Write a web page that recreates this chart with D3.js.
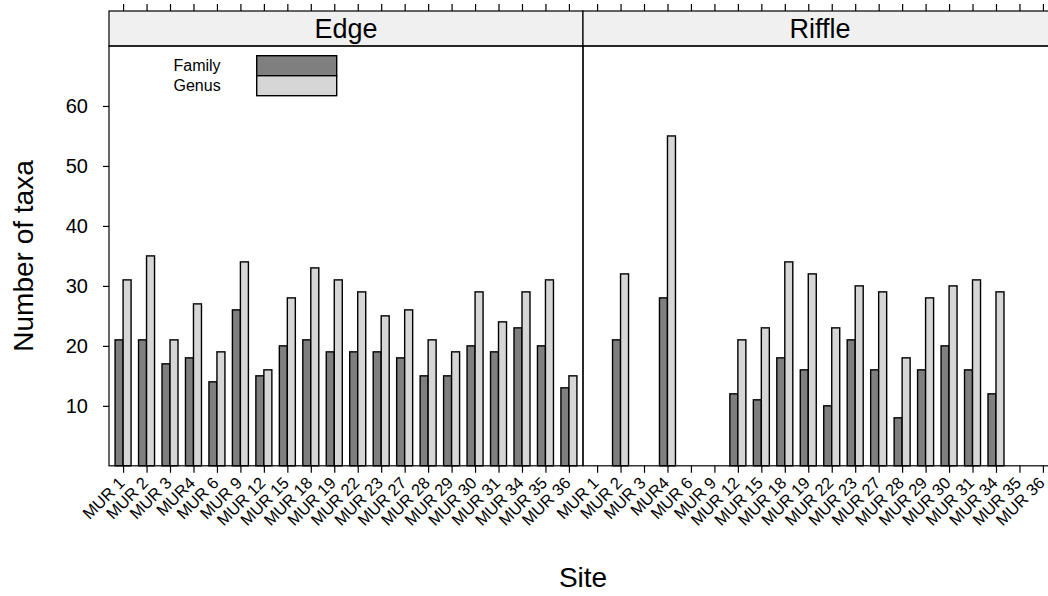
<!DOCTYPE html>
<html>
<head>
<meta charset="utf-8">
<script src="https://cdn.jsdelivr.net/npm/d3@7"></script>
<style>
  body { margin: 0; background: #fff; }
  svg { display: block; font-family: "Liberation Sans", Arial, Helvetica, sans-serif; }
</style>
</head>
<body>
<div id="chart"></div>
<script>
var sites = ["MUR 1", "MUR 2", "MUR 3", "MUR4", "MUR 6", "MUR 9", "MUR 12", "MUR 15", "MUR 18", "MUR 19",
    "MUR 22", "MUR 23", "MUR 27", "MUR 28", "MUR 29", "MUR 30", "MUR 31", "MUR 34", "MUR 35", "MUR 36"];
var habitats = ["Edge", "Riffle"];
var levels = ["Family", "Genus"];
var yTicks = [10, 20, 30, 40, 50, 60];

// null = site not sampled in that habitat
var edgeFamily = [21, 21, 17, 18, 14, 26, 15, 20, 21, 19, 19, 19, 18, 15, 15, 20, 19, 23, 20, 13];
var edgeGenus = [31, 35, 21, 27, 19, 34, 16, 28, 33, 31, 29, 25, 26, 21, 19, 29, 24, 29, 31, 15];
var riffleFamily = [null, 21, null, 28, null, null, 12, 11, 18, 16, 10, 21, 16, 8, 16, 20, 16, 12, null, null];
var riffleGenus = [null, 32, null, 55, null, null, 21, 23, 34, 32, 23, 30, 29, 18, 28, 30, 31, 29, null, null];

var width = 1048;
var height = 596;
var panelW = 474;
var panelLeft = 109;
var stripTop = 11;
var stripBottom = 46;
var panelBottom = 465.8;

var colors = {Family: "#7f7f7f", Genus: "#d6d6d6"};
var series = {
    Edge: {Family: edgeFamily, Genus: edgeGenus},
    Riffle: {Family: riffleFamily, Genus: riffleGenus}
};

var svg = d3.select("#chart").append("svg")
    .attr("width", width)
    .attr("height", height);

var x = d3.scalePoint()
    .domain(sites)
    .range([0, panelW])
    .padding(0.6);

var inner = d3.scaleBand()
    .domain(levels)
    .range([-8, 8]);

var y = d3.scaleLinear()
    .domain([0, 70])
    .range([panelBottom, stripBottom]);

habitats.forEach(function(h, i) {
    var g = svg.append("g")
        .attr("transform", "translate(" + (panelLeft + i * panelW) + ",0)");

    // strip
    g.append("rect")
        .attr("x", 0).attr("y", stripTop)
        .attr("width", panelW).attr("height", stripBottom - stripTop)
        .attr("fill", "#f0f0f0")
        .attr("stroke", "#000").attr("stroke-width", 1.2);
    g.append("text")
        .attr("x", panelW / 2).attr("y", 38)
        .attr("text-anchor", "middle")
        .style("font-size", "27px")
        .text(h);

    // bars
    levels.forEach(function(lev) {
        var vals = series[h][lev];
        g.append("g")
            .selectAll("rect")
            .data(sites.map(function(s, k) { return {site: s, value: vals[k]}; })
                .filter(function(d) { return d.value != null; }))
            .join("rect")
            .attr("x", function(d) { return x(d.site) + inner(lev); })
            .attr("width", inner.bandwidth())
            .attr("y", function(d) { return y(d.value); })
            .attr("height", function(d) { return y(0) - y(d.value); })
            .attr("fill", colors[lev])
            .attr("stroke", "#000")
            .attr("stroke-width", 1.4);
    });

    // panel frame
    g.append("rect")
        .attr("x", 0).attr("y", stripBottom)
        .attr("width", panelW).attr("height", panelBottom - stripBottom)
        .attr("fill", "none")
        .attr("stroke", "#000").attr("stroke-width", 1.2);

    // bottom axis, rotated site labels
    var bottom = g.append("g")
        .attr("transform", "translate(0," + panelBottom + ")")
        .call(d3.axisBottom(x).tickSize(7).tickFormat(""));
    bottom.select(".domain").remove();
    bottom.selectAll("line").attr("stroke-width", 1.2);
    bottom.selectAll(".tick").append("text")
        .attr("fill", "#000")
        .attr("text-anchor", "end")
        .attr("dominant-baseline", "central")
        .attr("transform", "translate(-2,14) rotate(-45)")
        .style("font-size", "16.5px")
        .text(function(d) { return d; });

    // top ticks above the strip
    var top = g.append("g")
        .attr("transform", "translate(0," + stripTop + ")")
        .call(d3.axisTop(x).tickSize(7).tickFormat(""));
    top.select(".domain").remove();
    top.selectAll("line").attr("stroke-width", 1.2);
});

// y axis
var left = svg.append("g")
    .attr("transform", "translate(" + panelLeft + ",0)")
    .call(d3.axisLeft(y).tickValues(yTicks).tickSize(6).tickPadding(15));
left.select(".domain").remove();
left.selectAll("line").attr("stroke-width", 1.2);
left.selectAll("text")
    .style("font-size", "20px")
    .attr("fill", "#000");

// legend
var legend = svg.append("g");
levels.forEach(function(lev, k) {
    legend.append("text")
        .attr("x", 173.5).attr("y", 65.7 + k * 20)
        .attr("dominant-baseline", "central")
        .style("font-size", "16px")
        .text(lev);
    legend.append("rect")
        .attr("x", 256.7).attr("y", 55.7 + k * 20)
        .attr("width", 80).attr("height", 20)
        .attr("fill", colors[lev])
        .attr("stroke", "#000").attr("stroke-width", 1.4);
});

// axis titles
svg.append("text")
    .attr("x", 583).attr("y", 587)
    .attr("text-anchor", "middle")
    .style("font-size", "28px")
    .text("Site");
svg.append("text")
    .attr("transform", "translate(33,256) rotate(-90)")
    .attr("text-anchor", "middle")
    .style("font-size", "28px")
    .text("Number of taxa");
</script>
</body>
</html>
